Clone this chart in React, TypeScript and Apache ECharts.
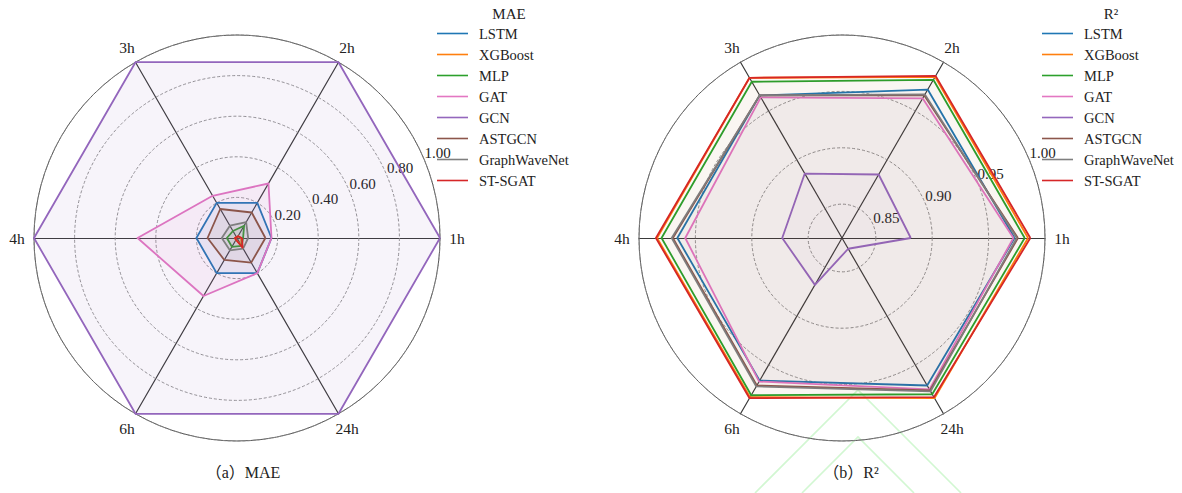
import React, { useEffect, useRef } from "react";
import * as echarts from "echarts";

const horizons = ["1h", "2h", "3h", "4h", "6h", "24h"];
const models = ["LSTM", "XGBoost", "MLP", "GAT", "GCN", "ASTGCN", "GraphWaveNet", "ST-SGAT"];
const modelColors = ["#1f77b4", "#ff7f0e", "#2ca02c", "#e377c2", "#9467bd", "#8c564b", "#7f7f7f", "#d62728"];

// normalised MAE (GCN = 1)
const maeLSTM = [0.17, 0.2, 0.2, 0.2, 0.2, 0.2];
const maeXGBoost = [0.02, 0.01, 0.005, 0.01, 0.01, 0.045];
const maeMLP = [0.03, 0.07, 0.04, 0.05, 0.05, 0.045];
const maeGAT = [0.17, 0.31, 0.24, 0.49, 0.33, 0.2];
const maeGCN = [1, 1, 1, 1, 1, 1];
const maeASTGCN = [0.14, 0.145, 0.165, 0.145, 0.125, 0.14];
const maeGraphWaveNet = [0.055, 0.09, 0.07, 0.075, 0.07, 0.06];
const maeSTSGAT = [0.025, 0.01, 0.005, 0.01, 0.01, 0.055];

// R²
const r2LSTM = [0.973, 0.972, 0.966, 0.966, 0.966, 0.971];
const r2XGBoost = [0.985, 0.985, 0.984, 0.984, 0.983, 0.984];
const r2MLP = [0.982, 0.982, 0.98, 0.98, 0.981, 0.98];
const r2GAT = [0.972, 0.963, 0.964, 0.959, 0.967, 0.975];
const r2GCN = [0.881, 0.885, 0.886, 0.873, 0.868, 0.831];
const r2ASTGCN = [0.976, 0.966, 0.966, 0.97, 0.971, 0.976];
const r2GraphWaveNet = [0.975, 0.967, 0.966, 0.971, 0.972, 0.977];
const r2STSGAT = [0.987, 0.986, 0.984, 0.985, 0.984, 0.983];

const maeSeries = [maeLSTM, maeXGBoost, maeMLP, maeGAT, maeGCN, maeASTGCN, maeGraphWaveNet, maeSTSGAT];
const r2Series = [r2LSTM, r2XGBoost, r2MLP, r2GAT, r2GCN, r2ASTGCN, r2GraphWaveNet, r2STSGAT];

const maeRange = [0, 1];
const r2Range = [0.82, 1.0];
const maeTickStep = 0.2;
const r2TickStep = 0.05;

const FONT = "Liberation Serif, serif";
const CAP_FONT = "Liberation Serif, Noto Sans CJK SC, serif";
const LEFT_C = [237, 238];
const RIGHT_C = [842, 238];
const R = 203;

export default function App() {
  const ref = useRef<HTMLDivElement>(null);
  useEffect(() => {
    if (!ref.current) return;
    const chart = echarts.init(ref.current, null, { renderer: "svg" });

    const makeRadar = (center: number[], range: number[]) => ({
      center,
      radius: R,
      startAngle: 0,
      shape: "circle",
      indicator: horizons.map((h) => ({ name: h, min: range[0], max: range[1] })),
      axisName: {
        color: "#222",
        fontSize: 15.5,
        fontFamily: FONT,
        align: "center",
        verticalAlign: "middle",
      },
      nameGap: 17,
      axisLine: { lineStyle: { color: "#3a3a3a", width: 1.2 } },
      splitLine: { show: false },
      splitArea: { show: false },
      axisTick: { show: false },
      axisLabel: { show: false },
    });

    const makeAngle = (polarIndex: number) => ({
      polarIndex,
      type: "value",
      min: 0,
      max: 360,
      startAngle: 22.5,
      axisLine: { show: true, lineStyle: { color: "#555", width: 1 } },
      axisTick: { show: false },
      axisLabel: { show: false },
      splitLine: { show: false },
    });

    const makeRadius = (polarIndex: number, range: number[], step: number, splitNumber: number) => ({
      polarIndex,
      type: "value",
      min: range[0],
      max: range[1],
      splitNumber,
      minInterval: step,
      maxInterval: step,
      axisLine: { show: false },
      axisTick: { show: false },
      axisLabel: {
        show: true,
        showMinLabel: false,
        margin: 0,
        align: "left",
        verticalAlign: "bottom",
        color: "#222",
        fontSize: 15,
        fontFamily: FONT,
        formatter: (v: number) => v.toFixed(2),
      },
      splitLine: { show: true, lineStyle: { color: "#888", type: [3, 2], width: 0.9 } },
      z: 1,
    });

    const makeData = (series: number[][], areaOpacity: number) =>
      series.map((vals, i) => ({
        name: models[i],
        value: vals,
        symbol: "none",
        itemStyle: { color: modelColors[i] },
        lineStyle: { color: modelColors[i], width: 1.8 },
        areaStyle: { color: modelColors[i], opacity: areaOpacity },
      }));

    const makeLegend = (left: number) => ({
      orient: "vertical",
      left,
      top: 18,
      data: models,
      icon: "rect",
      itemWidth: 31,
      itemHeight: 1.6,
      itemGap: 0,
      selectedMode: false,
      textStyle: { color: "#222", fontSize: 14.5, fontFamily: FONT, lineHeight: 21, padding: [0, 0, 0, 6] },
    });

    const txt = (x: number, y: number, text: string, size: number, family: string) => ({
      type: "text",
      x,
      y,
      style: {
        text,
        fill: "#222",
        fontSize: size,
        fontFamily: family,
        align: "center",
        verticalAlign: "middle",
      },
    });

    chart.setOption({
      animation: false,
      backgroundColor: "#fff",
      radar: [makeRadar(LEFT_C, maeRange), makeRadar(RIGHT_C, r2Range)],
      polar: [
        { center: LEFT_C, radius: R },
        { center: RIGHT_C, radius: R },
      ],
      angleAxis: [makeAngle(0), makeAngle(1)],
      radiusAxis: [makeRadius(0, maeRange, maeTickStep, 5), makeRadius(1, r2Range, r2TickStep, 4)],
      legend: [makeLegend(432), makeLegend(1037)],
      series: [
        { type: "radar", radarIndex: 0, data: makeData(maeSeries, 0.07), z: 3 },
        { type: "radar", radarIndex: 1, data: makeData(r2Series, 0.018), z: 3 },
      ],
      graphic: [
        txt(509, 14, "MAE", 15, FONT),
        txt(1111, 14, "R²", 15, FONT),
        txt(243, 472, "（a）MAE", 16, CAP_FONT),
        txt(851, 472, "（b）R²", 16, CAP_FONT),
        {
          type: "polyline",
          shape: { points: [[755, 493], [858, 390], [961, 493]] },
          style: { stroke: "#d2f7d2", lineWidth: 1.6, fill: null },
          silent: true,
        },
        {
          type: "polyline",
          shape: { points: [[802, 493], [858, 437], [914, 493]] },
          style: { stroke: "#d2f7d2", lineWidth: 1.6, fill: null },
          silent: true,
        },
      ],
    });
    return () => chart.dispose();
  }, []);
  return <div ref={ref} style={{ position: "fixed", left: 0, top: 0, width: 1182, height: 493 }} />;
}
